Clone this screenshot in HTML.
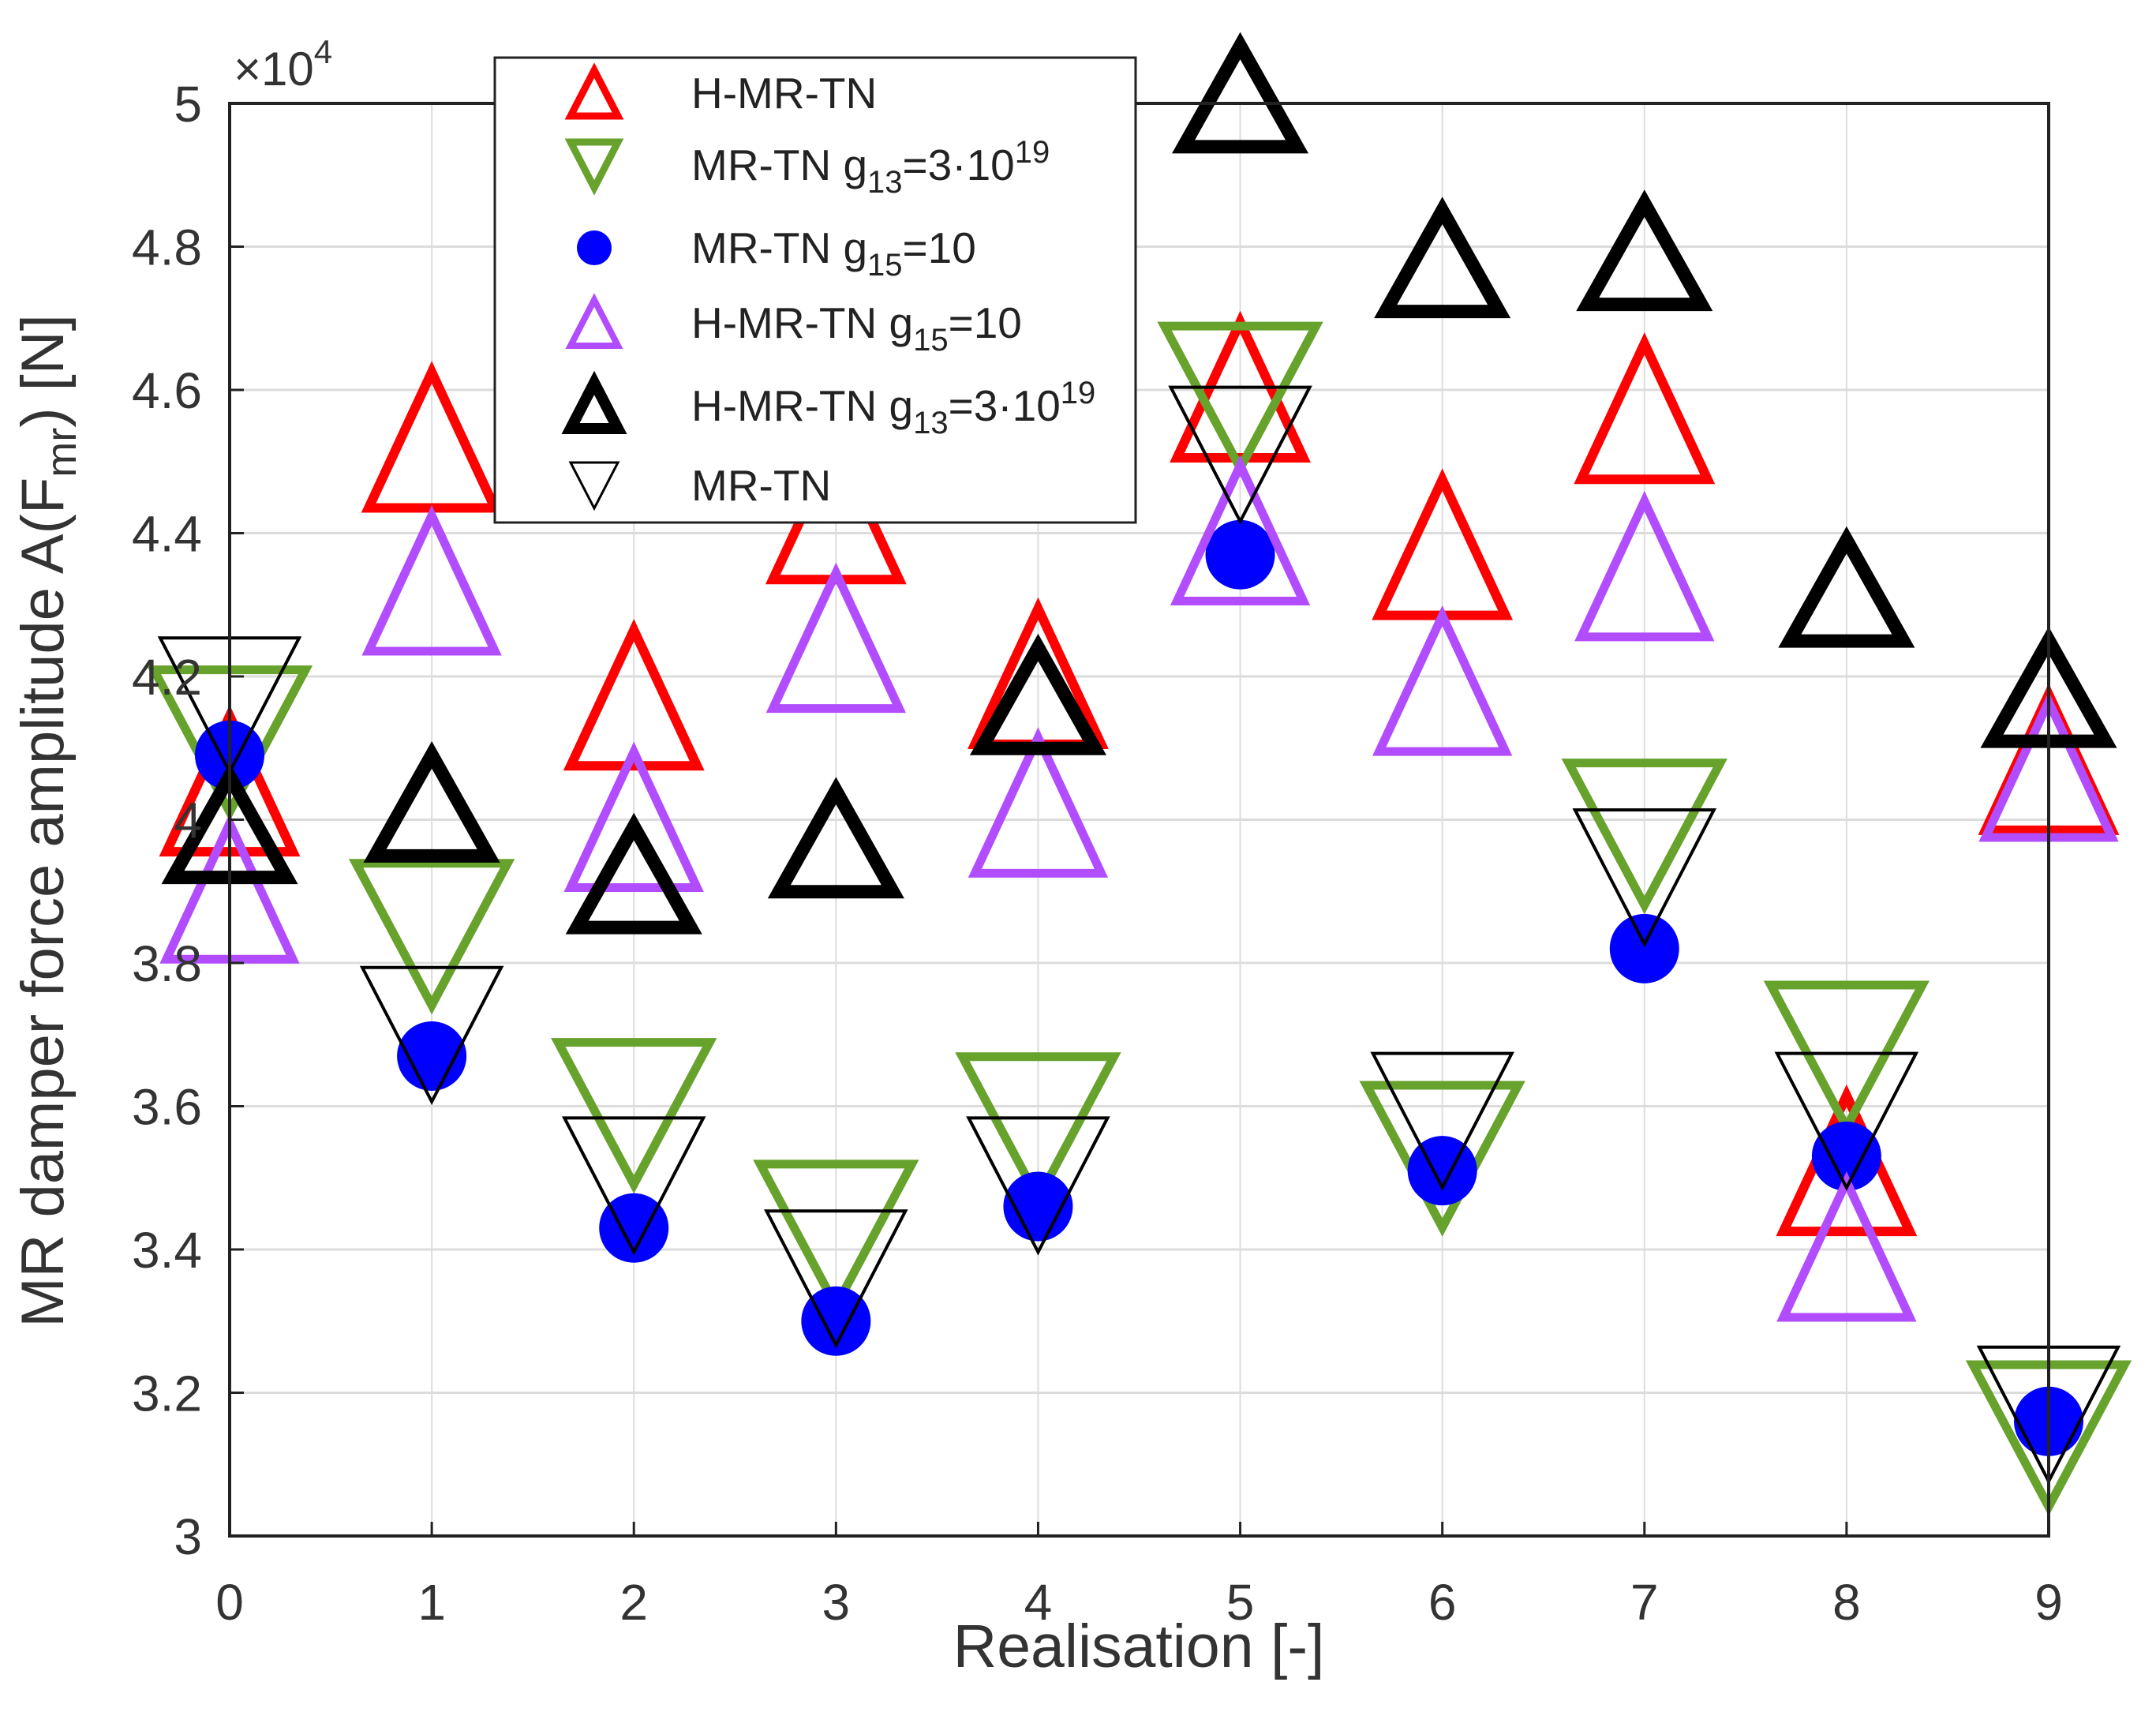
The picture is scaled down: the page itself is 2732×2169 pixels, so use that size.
<!DOCTYPE html>
<html><head><meta charset="utf-8">
<style>
html,body{margin:0;padding:0;background:#fff;}
svg{display:block;font-family:"Liberation Sans",sans-serif;}
</style></head>
<body>
<svg id="chart" width="2732" height="2169" viewBox="0 0 2732 2169" xmlns="http://www.w3.org/2000/svg">
<rect x="0" y="0" width="2732" height="2169" fill="#fff"/>
<g id="grid"></g>
<g id="marks"></g>
<g id="axes"></g>
<text x="296" y="108" font-size="60" fill="#333">×10<tspan font-size="42" dy="-28">4</tspan></text>
<text transform="translate(80,1040) rotate(-90)" text-anchor="middle" font-size="76" fill="#333">MR damper force amplitude A(F<tspan font-size="54" dy="16">mr</tspan><tspan dy="-16">) [N]</tspan></text>
<text x="1443" y="2112" text-anchor="middle" font-size="77" fill="#333">Realisation [-]</text>
<g id="legend">
<rect x="627" y="73" width="812" height="589" fill="#fff" stroke="#222" stroke-width="3"/>
</g>
</svg>
<script>
const categories = [0,1,2,3,4,5,6,7,8,9];
const yTicks = [3,3.2,3.4,3.6,3.8,4,4.2,4.4,4.6,4.8,5];
const yTickLabels = ["3","3.2","3.4","3.6","3.8","4","4.2","4.4","4.6","4.8","5"];
const redHMRTN = [4.05,4.53,4.17,4.43,4.20,4.60,4.38,4.57,3.52,4.08];
const greenMRTNg13 = [4.11,3.84,3.59,3.42,3.57,4.59,3.53,3.98,3.67,3.14];
const blueMRTNg15 = [4.09,3.67,3.43,3.30,3.46,4.37,3.51,3.82,3.53,3.16];
const purpleHMRTNg15 = [3.90,4.33,4.00,4.25,4.02,4.40,4.19,4.35,3.40,4.07];
const blackHMRTNg13 = [3.99,4.02,3.92,3.97,4.17,5.01,4.78,4.79,4.32,4.18];
const blackMRTN = [4.16,3.70,3.49,3.36,3.49,4.51,3.58,3.92,3.58,3.17];

const NS="http://www.w3.org/2000/svg";
const L=291,R=2596,T=131,B=1946;
const xS=v=>L+(v-0)/9*(R-L);
const yS=v=>B-(v-3)/2*(B-T);
function mk(tag,attrs,parent){const e=document.createElementNS(NS,tag);for(const k in attrs)e.setAttribute(k,attrs[k]);parent.appendChild(e);return e;}
const grid=document.getElementById('grid'),axes=document.getElementById('axes'),marks=document.getElementById('marks'),legend=document.getElementById('legend');
categories.forEach(c=>{
  const g=mk('line',{x1:xS(c),x2:xS(c),y1:T,y2:B,stroke:'#dcdcdc','stroke-width':2},grid);
  
  
  const t=mk('line',{x1:xS(c),x2:xS(c),y1:B,y2:B-18,stroke:'#222','stroke-width':3},axes);
  
  
  const lb=mk('text',{x:xS(c),y:2052,'text-anchor':'middle','font-size':64,fill:'#333'},axes);
  lb.textContent=c;
  
  
});
yTicks.forEach((v,i)=>{
  const g=mk('line',{x1:L,x2:R,y1:yS(v),y2:yS(v),stroke:'#dcdcdc','stroke-width':3},grid);
  
  
  const t=mk('line',{x1:L,x2:L+18,y1:yS(v),y2:yS(v),stroke:'#222','stroke-width':3},axes);
  
  
  const lb=mk('text',{x:256,y:yS(v)+23,'text-anchor':'end','font-size':64,fill:'#333'},axes);
  lb.textContent=yTickLabels[i];
  
  
});
const box=mk('rect',{x:L,y:T,width:R-L,height:B-T,fill:'none',stroke:'#222','stroke-width':4},axes);



function tri(cx,cy,hw,h,up,color,sw,parent){
  const pts=up?[[cx,cy-h/2],[cx+hw,cy+h/2],[cx-hw,cy+h/2]]:[[cx-hw,cy-h/2],[cx+hw,cy-h/2],[cx,cy+h/2]];
  return mk('polygon',{points:pts.map(p=>p.join(',')).join(' '),fill:'none',stroke:color,'stroke-width':sw,'stroke-linejoin':'miter'},parent);
}
const series=[
 {data:redHMRTN,type:'up',color:'#ff0000',hw:80,h:172,sw:12,name:'marker-h-mr-tn'},
 {data:greenMRTNg13,type:'down',color:'#66a22c',hw:96,h:180,sw:11,name:'marker-mr-tn-g13'},
 {data:blueMRTNg15,type:'dot',color:'#0000ff',r:44,name:'marker-mr-tn-g15'},
 {data:purpleHMRTNg15,type:'up',color:'#b14cff',hw:80,h:172,sw:11,name:'marker-h-mr-tn-g15'},
 {data:blackHMRTNg13,type:'up',color:'#000000',hw:72,h:128,sw:17,name:'marker-h-mr-tn-g13'},
 {data:blackMRTN,type:'down',color:'#000000',hw:88,h:170,sw:4,name:'marker-mr-tn'}
];
series.forEach(s=>{
  const g=mk('g',{},marks);
  
  
  s.data.forEach((v,i)=>{
    let e;
    if(s.type==='dot') e=mk('circle',{cx:xS(categories[i]),cy:yS(v),r:s.r,fill:s.color},g);
    else e=tri(xS(categories[i]),yS(v),s.hw,s.h,s.type==='up',s.color,s.sw,g);
    
    
  });
});
const legY=[118,209,314,409,514,615];
const legSpecs=[
 {type:'up',color:'#ff0000',sw:9,hw:30,h:58},
 {type:'down',color:'#66a22c',sw:9,hw:30,h:58},
 {type:'dot',color:'#0000ff'},
 {type:'up',color:'#b14cff',sw:8,hw:30,h:58},
 {type:'up',color:'#000',sw:14,hw:30,h:58},
 {type:'down',color:'#000',sw:3,hw:30,h:58}
];
const legText=[
 'H-MR-TN',
 'MR-TN g<tspan font-size="40" dy="16">13</tspan><tspan dy="-16">=3·10</tspan><tspan font-size="40" dy="-22">19</tspan>',
 'MR-TN g<tspan font-size="40" dy="16">15</tspan><tspan dy="-16">=10</tspan>',
 'H-MR-TN g<tspan font-size="40" dy="16">15</tspan><tspan dy="-16">=10</tspan>',
 'H-MR-TN g<tspan font-size="40" dy="16">13</tspan><tspan dy="-16">=3·10</tspan><tspan font-size="40" dy="-22">19</tspan>',
 'MR-TN'
];
legSpecs.forEach((s,i)=>{
  let e;
  if(s.type==='dot') e=mk('circle',{cx:753,cy:legY[i],r:22,fill:s.color},legend);
  else e=tri(753,legY[i],s.hw,s.h,s.type==='up',s.color,s.sw,legend);
  
  
  const t=mk('text',{x:876,y:legY[i]+19,'font-size':55,fill:'#222'},legend);
  t.innerHTML=legText[i];
  
  
});
</script>
</body></html>
